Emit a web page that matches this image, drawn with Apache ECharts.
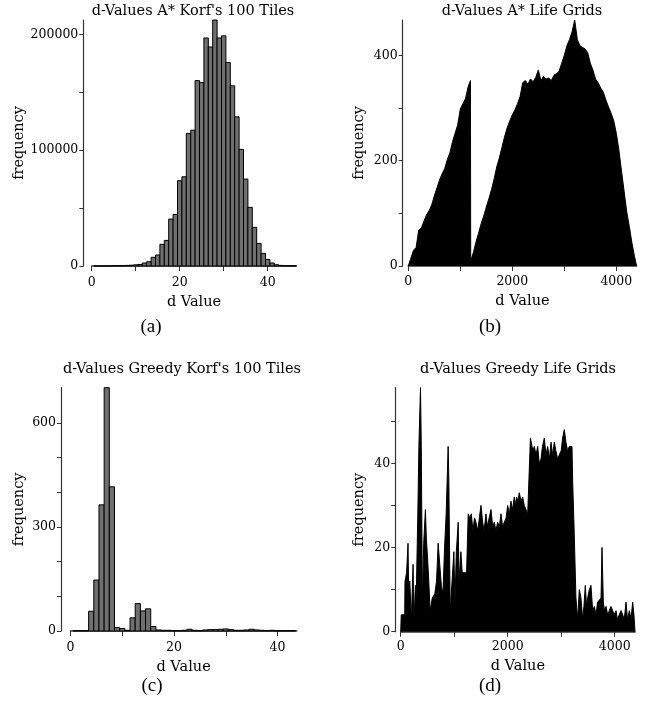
<!DOCTYPE html>
<html>
<head>
<meta charset="utf-8">
<script src="https://cdn.jsdelivr.net/npm/echarts@6/dist/echarts.min.js"></script>
<style>
html,body{margin:0;padding:0;background:#fff;}
#chart{width:647px;height:708px;}
</style>
</head>
<body>
<div id="chart"></div>
<script>
// ---------- DATA ----------
// (a) A* Korf's 100 tiles
const aD = [1,2,3,4,5,6,7,8,9,10,11,12,13,14,15,16,17,18,19,20,21,22,23,24,25,26,27,28,29,30,31,32,33,34,35,36,37,38,39,40,41,42,43,44,45,46];
const aFreq = [0,0,50,80,150,250,350,500,700,1000,1300,2600,3700,7500,9500,18700,22100,40500,44500,73600,77000,114400,117200,160000,158300,196800,189000,212300,196800,198600,175600,155500,128700,100600,75000,50600,33300,19500,10900,5700,2600,1100,500,200,100,50];

// (b) A* Life grids
const bD = [0,50,100,150,200,250,300,350,400,450,500,550,600,650,700,750,800,850,900,950,1000,1050,1100,1150,1195,1200,1250,1300,1350,1400,1450,1500,1550,1600,1650,1700,1750,1800,1850,1900,1950,2000,2050,2100,2150,2200,2250,2300,2350,2400,2450,2500,2550,2600,2650,2700,2750,2800,2850,2900,2950,3000,3050,3100,3150,3200,3250,3300,3350,3400,3450,3500,3550,3600,3650,3700,3750,3800,3850,3900,3950,4000,4050,4100,4150,4200,4250,4300,4350,4390];
const bFreq = [0,15,30,35,68,72,85,97,105,116,133,148,163,175,185,202,215,236,252,268,298,308,318,340,352,10,25,45,62,80,95,112,128,145,165,188,205,225,245,262,275,287,296,308,322,348,352,345,355,350,358,372,352,360,355,357,352,362,365,370,385,400,418,430,445,467,430,418,415,412,405,385,372,355,348,338,330,315,302,290,276,252,220,180,142,103,75,44,18,0];

// (c) Greedy Korf's 100 tiles
const cD = [1,2,3,4,5,6,7,8,9,10,11,12,13,14,15,16,17,18,19,20,21,22,23,24,25,26,27,28,29,30,31,32,33,34,35,36,37,38,39,40,41,42,43];
const cFreq = [1,1,1,57,147,364,702,416,10,7,2,38,79,58,64,13,3,2,2,1,1,2,5,2,1,3,4,4,5,6,4,2,2,3,5,3,2,1,2,1,1,1,1];

// (d) Greedy Life grids
const dD = [0,10,75,80,110,125,137,150,170,200,231,250,275,290,320,340,370,385,406,430,462,480,500,525,550,590,637,670,700,730,760,790,820,850,887,900,925,960,994,1015,1040,1075,1090,1125,1150,1181,1231,1262,1290,1320,1350,1380,1407,1440,1470,1501,1532,1560,1594,1620,1650,1688,1720,1750,1780,1812,1845,1875,1905,1937,1970,2000,2030,2061,2090,2124,2150,2167,2190,2217,2250,2280,2310,2343,2374,2405,2415,2425,2436,2470,2498,2530,2561,2590,2623,2650,2685,2715,2748,2780,2810,2840,2872,2900,2935,2965,3000,3027,3058,3089,3120,3152,3202,3214,3245,3276,3307,3339,3370,3401,3425,3451,3475,3495,3526,3557,3589,3620,3651,3680,3713,3745,3763,3788,3810,3838,3870,3900,3930,3963,3990,4025,4050,4087,4120,4150,4180,4212,4240,4275,4305,4337,4360,4380];
const dFreq = [0,4,4,12,14,14,21,9,12,3,16,3,11,8,28,44,58,44,7,21,29,22,18,12,5,8,9,12,21,21,11,9,20,28,44,36,5,12,19,7,19,26,12,19,14,14,14,28,27,28,24,27,26,24,27,30,26,24,28,25,25,29,25,26,24,26,25,28,25,26,27,30,28,31,29,32,30,32,31,33,31,32,30,30,28,28,28,46,46,43,44,42,44,40,41,44,46,42,44,41,45,42,45,43,41,42,43,46,48,45,43,44,44,36,23,8,3,10,8,3,6,11,6,8,10,11,5,6,4,7,7,8,20,7,5,6,4,5,6,5,4,5,3,3,5,5,3,7,3,5,3,7,4,0];

// tick values
const kTicksX = [0,10,20,30,40];
const kLabelsX = [0,20,40];
const lifeTicksX = [0,1000,2000,3000,4000];
const lifeLabelsX = [0,2000,4000];
const aTicksY = [0,50000,100000,150000,200000];
const aLabelsY = [0,100000,200000];
const bTicksY = [0,100,200,300,400];
const bLabelsY = [0,200,400];
const cTicksY = [0,100,200,300,400,500,600];
const cLabelsY = [0,300,600];
const dTicksY = [0,10,20,30,40,50];
const dLabelsY = [0,20,40];

const titles = ["d-Values A* Korf's 100 Tiles","d-Values A* Life Grids","d-Values Greedy Korf's 100 Tiles","d-Values Greedy Life Grids"];
const panelLabels = ["(a)","(b)","(c)","(d)"];

// ---------- CHART ----------
const FONT = 'DejaVu Serif';
const AXC = '#333';

function xAxisCfg(grid, max, ticks, labels, offset, gap) {
  return {
    type:'value', gridIndex:grid, min:0, max:max, offset:offset,
    name:'d Value', nameLocation:'middle', nameGap:gap,
    nameTextStyle:{fontFamily:FONT, fontSize:14.5, color:'#000'},
    splitLine:{show:false},
    axisLine:{show:true, lineStyle:{color:AXC, width:1.6}},
    axisTick:{show:true, length:5, customValues:ticks, lineStyle:{color:AXC, width:1}},
    axisLabel:{show:true, customValues:labels, margin:4, fontFamily:FONT, fontSize:12.5, color:'#000', formatter:(v)=>String(v)}
  };
}
function yAxisCfg(grid, max, ticks, labels, offset, gap) {
  return {
    type:'value', gridIndex:grid, min:0, max:max, offset:offset,
    name:'frequency', nameLocation:'middle', nameGap:gap, nameRotate:90,
    nameTextStyle:{fontFamily:FONT, fontSize:14.5, color:'#000'},
    splitLine:{show:false},
    axisLine:{show:true, onZero:false, lineStyle:{color:AXC, width:1.2}},
    axisTick:{show:true, length:4, customValues:ticks, lineStyle:{color:AXC, width:1}},
    axisLabel:{show:true, customValues:labels, margin:5, fontFamily:FONT, fontSize:12.5, color:'#000', formatter:(v)=>String(v)}
  };
}
function barSeries(xi, yi, xs, ys) {
  return {
    type:'custom', xAxisIndex:xi, yAxisIndex:yi,
    data: xs.map((x,i)=>[x, ys[i]]),
    encode:{x:0, y:1},
    renderItem:function(params, api){
      const x = api.value(0), y = api.value(1);
      const p0 = api.coord([x-0.5, y]);
      const p1 = api.coord([x+0.5, 0]);
      return {type:'rect', shape:{x:p0[0], y:p0[1], width:p1[0]-p0[0], height:p1[1]-p0[1]},
        style:{fill:'#6f6f6f', stroke:'#000', lineWidth:1}};
    }
  };
}
function areaSeries(xi, yi, xs, ys) {
  return {
    type:'line', xAxisIndex:xi, yAxisIndex:yi,
    data: xs.map((x,i)=>[x, ys[i]]),
    showSymbol:false, symbol:'none', smooth:false, animation:false,
    lineStyle:{color:'#000', width:1},
    areaStyle:{color:'#000', opacity:1}
  };
}

const chart = echarts.init(document.getElementById('chart'), null, {renderer:'canvas'});
const titleCenters = [[193,4],[522,4],[182,362],[518,362]];
const labelCenters = [[151,327],[490,327],[152,686],[490,686]];

chart.setOption({
  animation:false,
  backgroundColor:'#fff',
  title: titles.map((t,i)=>({text:t, left:titleCenters[i][0], top:titleCenters[i][1], textAlign:'center', padding:0,
    textStyle:{fontFamily:FONT, fontSize:14.5, fontWeight:'normal', color:'#000'}})),
  graphic: panelLabels.map((t,i)=>({type:'text', x:labelCenters[i][0], y:labelCenters[i][1],
    style:{text:t, fontFamily:'Liberation Serif', fontSize:19, fill:'#000', textAlign:'center', textVerticalAlign:'middle'}})),
  grid:[
    {left:91.7, top:20, width:204.6, height:246},
    {left:408.3, top:20, width:228.3, height:246},
    {left:70.5, top:387.7, width:226.2, height:243.3},
    {left:400.7, top:387.5, width:234.3, height:244.2}
  ],
  xAxis:[
    xAxisCfg(0, 46.5, kTicksX, kLabelsX, 6.3, 22),
    xAxisCfg(1, 4390, lifeTicksX, lifeLabelsX, 5.7, 22),
    xAxisCfg(2, 43.7, kTicksX, kLabelsX, 6.3, 22),
    xAxisCfg(3, 4380, lifeTicksX, lifeLabelsX, 5, 22)
  ],
  yAxis:[
    yAxisCfg(0, 212300, aTicksY, aLabelsY, 8.4, 55),
    yAxisCfg(1, 467, bTicksY, bLabelsY, 5.6, 36),
    yAxisCfg(2, 702, cTicksY, cLabelsY, 9.5, 34),
    yAxisCfg(3, 58, dTicksY, dLabelsY, 5.5, 28)
  ],
  series:[
    barSeries(0,0,aD,aFreq),
    areaSeries(1,1,bD,bFreq),
    barSeries(2,2,cD,cFreq),
    areaSeries(3,3,dD,dFreq)
  ]
});
</script>
</body>
</html>
